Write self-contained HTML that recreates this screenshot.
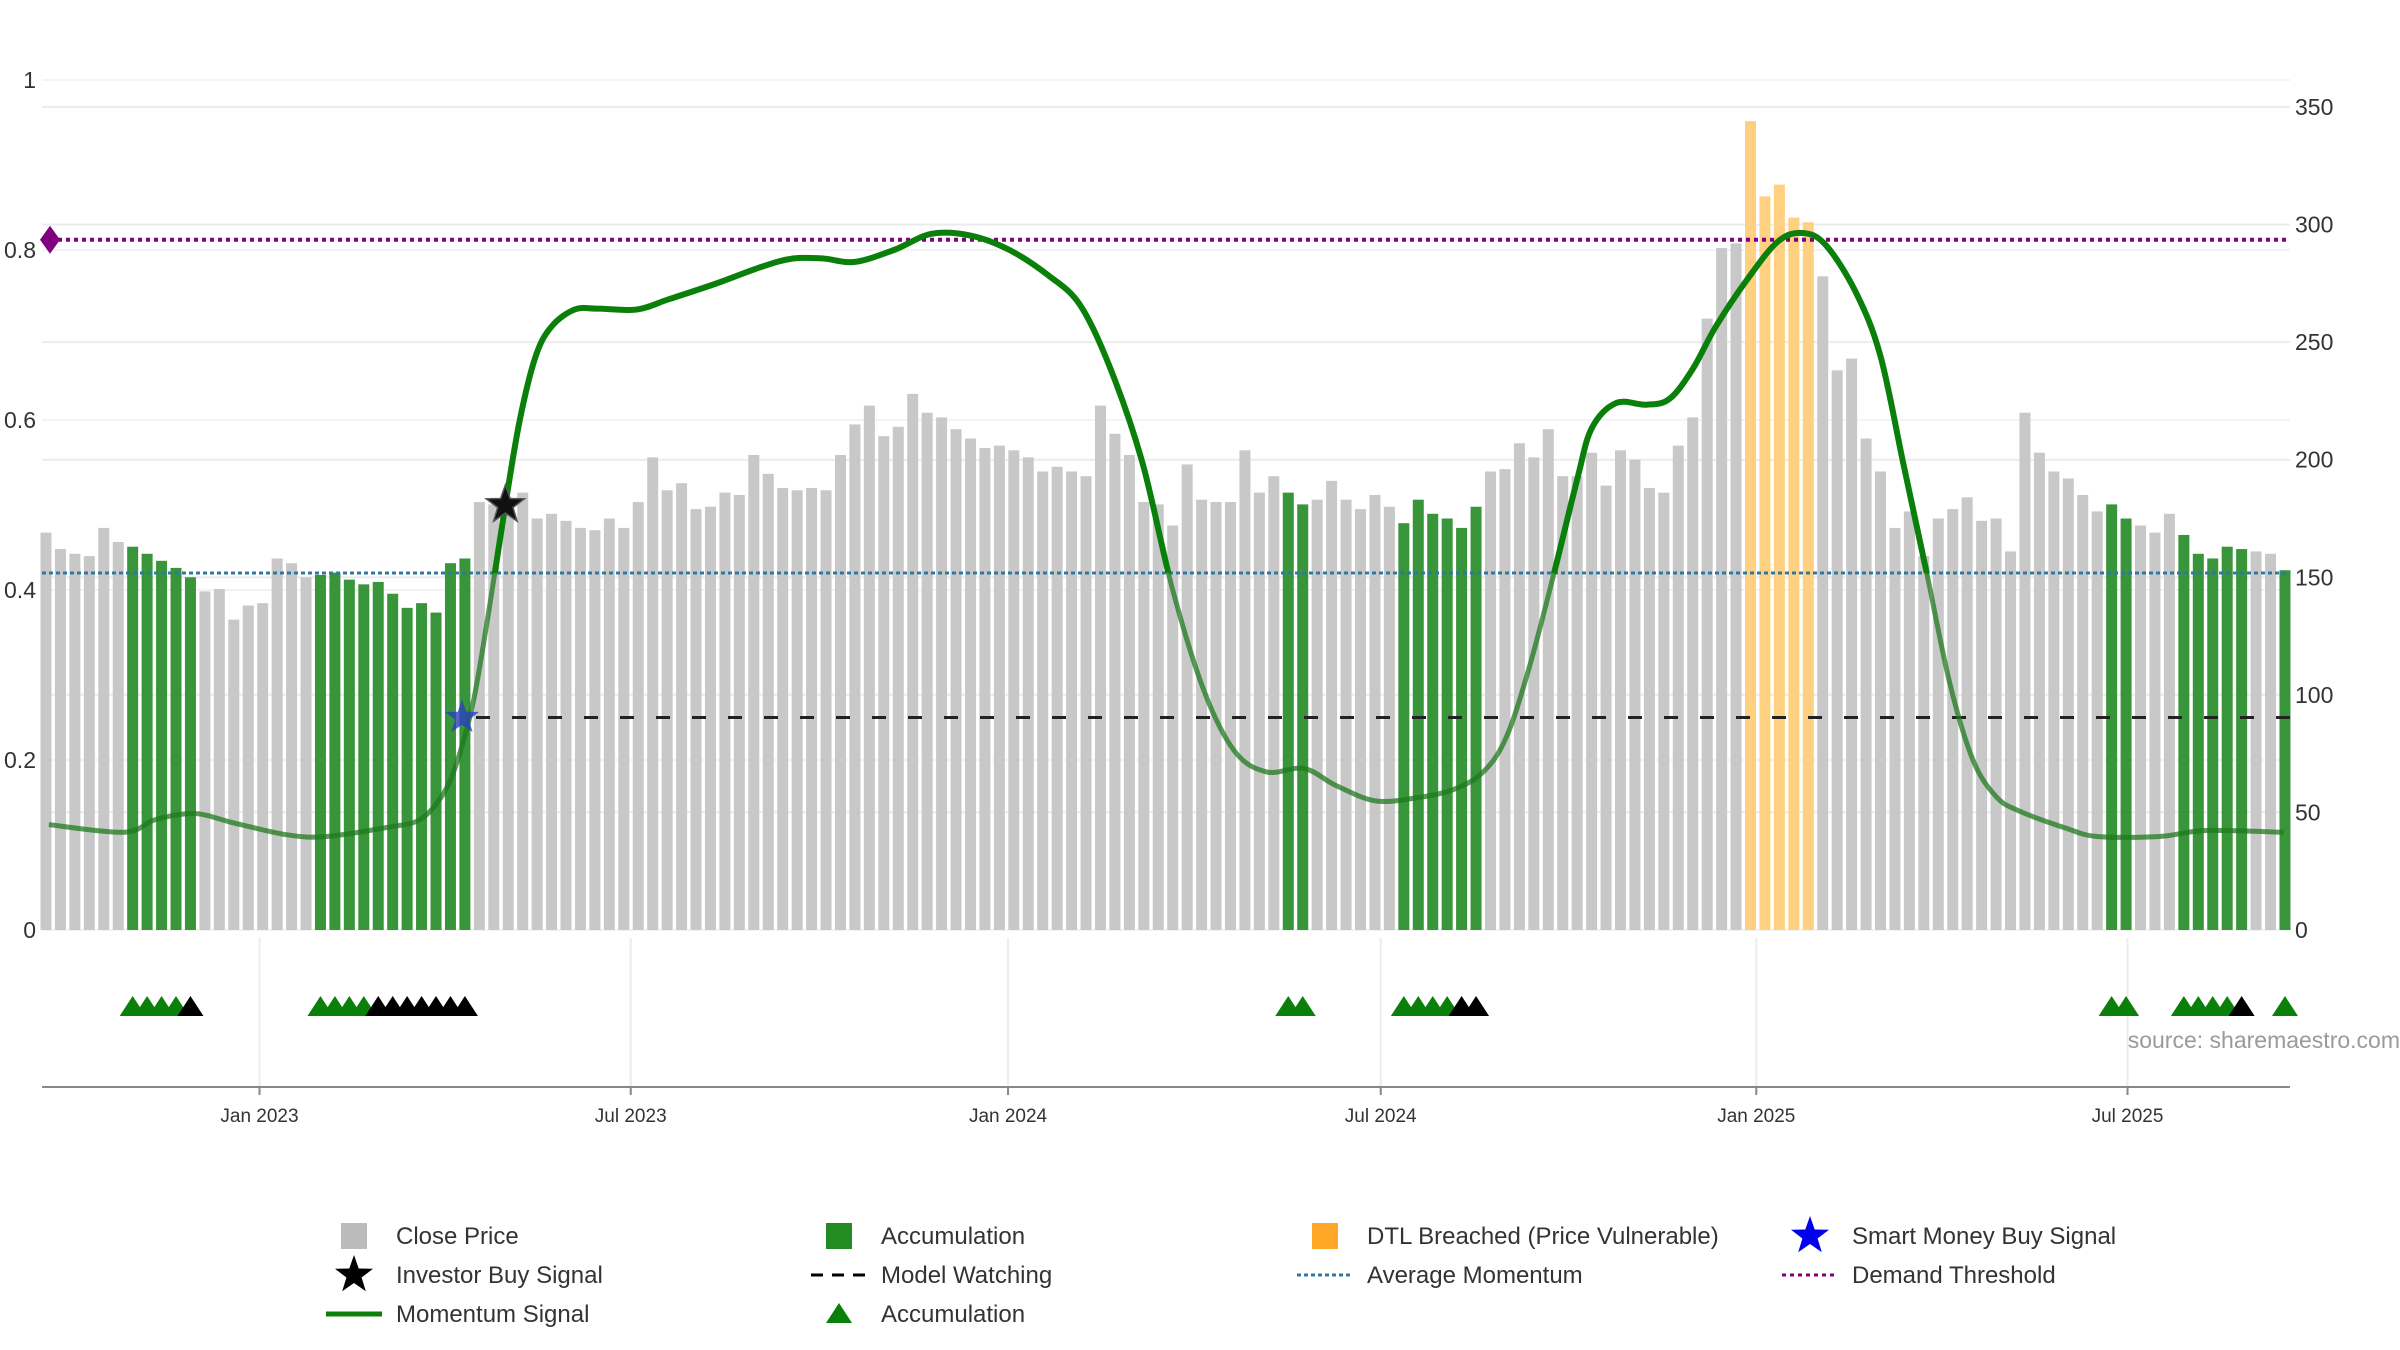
<!DOCTYPE html>
<html><head><meta charset="utf-8"><style>
html,body{margin:0;padding:0;background:#fff;}
svg{display:block;font-family:"Liberation Sans","DejaVu Sans",sans-serif;}
</style></head><body>
<svg id="chart" width="2400" height="1350" viewBox="0 0 2400 1350" xmlns="http://www.w3.org/2000/svg">
<defs><clipPath id="aboveAvg"><rect x="0" y="0" width="2400" height="573"/></clipPath></defs>
<g id="grid"></g>
<g id="bars"></g>
<g id="refs"></g>
<g id="lines"></g>
<g id="markers"></g>
<g id="axes"></g>
<text x="2400" y="1048" text-anchor="end" font-size="23" fill="#9a9a9a">source: sharemaestro.com</text>
<g id="legend"></g>
</svg>
<script>
const prices = [169,162,160,159,171,165,163,160,157,154,150,144,145,132,138,139,158,156,150,151,152,149,147,148,143,137,139,135,156,158,182,181,181,186,175,177,174,171,170,175,171,182,201,187,190,179,180,186,185,202,194,188,187,188,187,202,215,223,210,214,228,220,218,213,209,205,206,204,201,195,197,195,193,223,211,202,182,181,172,198,183,
182,182,204,186,193,186,181,183,191,183,179,185,180,173,183,177,175,171,180,195,196,207,201,213,193,193,203,189,204,200,188,186,206,218,260,290,292,344,312,317,303,301,278,238,243,209,195,171,178,159,175,179,184,174,175,161,220,203,195,192,185,178,181,175,172,169,177,168,160,158,163,162,161,160,153];
const accumIdx = [6,7,8,9,10,19,20,21,22,23,24,25,26,27,28,29,86,87,94,95,96,97,98,99,143,144,148,149,150,151,152,155];
const breachedIdx = [118,119,120,121,122];
const momIdx = [0.2,5.4,7.6,10.3,13.0,16.7,19.4,23.7,25.9,27.5,28.5,29.6,30.7,31.8,32.8,33.9,35.0,36.6,38.2,40.9,43.1,46.3,49.5,51.7,53.8,56.0,58.7,61.3,64.0,66.7,69.4,71.6,73.7,75.9,78.0,80.2,82.3,84.5,87.1,89.3,92.0,94.7,97.4,99.5,101.1,102.7,104.4,106.0,107.0,108.7,110.8,112.4,114.0,115.6,117.8,119.9,121.6,123.2,125.3,127.0,128.6,130.2,131.8,133.4,135.0,136.6,139.8,142.0,146.3,149.5,154.9];
const momVal = [0.124,0.115,0.13,0.137,0.126,0.112,0.11,0.121,0.13,0.16,0.2,0.27,0.38,0.5,0.6,0.675,0.71,0.73,0.731,0.73,0.742,0.76,0.78,0.79,0.79,0.786,0.80,0.819,0.817,0.80,0.77,0.735,0.66,0.55,0.40,0.28,0.21,0.186,0.19,0.17,0.152,0.155,0.165,0.186,0.227,0.31,0.42,0.53,0.59,0.62,0.618,0.625,0.66,0.71,0.766,0.81,0.82,0.806,0.75,0.675,0.547,0.42,0.29,0.2,0.157,0.14,0.12,0.11,0.11,0.117,0.115];
const accTriIdx = [6,7,8,9,19,20,21,22,86,87,94,95,96,97,143,144,148,149,150,151,155];
const watchTriIdx = [10,23,24,25,26,27,28,29,98,99,152];
const investorStar = [31.8, 0.5];
const smartStar = [28.8, 0.25];
const avgMomentum = 0.42;
const demandThreshold = 0.812;
const modelWatching = 0.25;
const monthIdx = [14.78,40.48,66.6,92.4,118.4,144.1];
const monthLabels = ["Jan 2023","Jul 2023","Jan 2024","Jul 2024","Jan 2025","Jul 2025"];
const rightTicks = [0,50,100,150,200,250,300,350];
const leftTicks = [0,0.2,0.4,0.6,0.8,1];
const leftTickLabels = ["0","0.2","0.4","0.6","0.8","1"];

const NS="http://www.w3.org/2000/svg";
const X0=46, DX=14.445, PL=42, PR=2290;
const xs=i=>X0+i*DX;
const ly=v=>930-850*v;
const ry=v=>930-v*823/350;
function mk(parent,tag,attrs){const e=document.createElementNS(NS,tag);for(const k in attrs)e.setAttribute(k,attrs[k]);document.getElementById(parent).appendChild(e);return e;}

// grid
rightTicks.forEach(t=>{const g=mk('grid','line',{x1:PL,x2:PR,y1:ry(t),y2:ry(t),stroke:'#ececec','stroke-width':2});

});
leftTicks.forEach(t=>{const g=mk('grid','line',{x1:PL,x2:PR,y1:ly(t),y2:ly(t),stroke:'#f3f3f3','stroke-width':2});

});
monthIdx.forEach(m=>{const g=mk('grid','line',{x1:xs(m),x2:xs(m),y1:938,y2:1087,stroke:'#ececec','stroke-width':2});

});

// bars
prices.forEach((p,i)=>{let c='#c8c8c8';
if(accumIdx.includes(i))c='#2e8f2e'; if(breachedIdx.includes(i))c='#ffd080';
const b=mk('bars','rect',{x:xs(i)-5.5,y:ry(p),width:11,height:ry(0)-ry(p),fill:c,opacity:accumIdx.includes(i)?0.95:1});

});

// reference lines
let r=mk('refs','line',{x1:PL,x2:PR,y1:ly(avgMomentum),y2:ly(avgMomentum),stroke:'#2f78a0','stroke-width':3,'stroke-dasharray':'4 3'});


r=mk('refs','line',{x1:PL,x2:PR,y1:ly(demandThreshold),y2:ly(demandThreshold),stroke:'#800080','stroke-width':4,'stroke-dasharray':'4 4'});


r=mk('refs','path',{d:`M${PL+8},${ly(demandThreshold)-14} l10,14 l-10,14 l-10,-14z`,fill:'#800080'});


r=mk('refs','line',{x1:xs(smartStar[0])+14,x2:PR,y1:ly(modelWatching),y2:ly(modelWatching),stroke:'#222','stroke-width':3,'stroke-dasharray':'14 22'});



// momentum line
const pts=momIdx.map((m,i)=>[xs(m),ly(momVal[i])]);
let d=`M${pts[0][0]},${pts[0][1]}`;
for(let i=0;i<pts.length-1;i++){const p0=pts[Math.max(0,i-1)],p1=pts[i],p2=pts[i+1],p3=pts[Math.min(pts.length-1,i+2)];
d+=` C${p1[0]+(p2[0]-p0[0])/6},${p1[1]+(p2[1]-p0[1])/6} ${p2[0]-(p3[0]-p1[0])/6},${p2[1]-(p3[1]-p1[1])/6} ${p2[0]},${p2[1]}`;}
let l=mk('lines','path',{d:d,fill:'none',stroke:'#1f7a1f','stroke-width':5,opacity:0.75});


l=mk('lines','path',{d:d,fill:'none',stroke:'#0a800a','stroke-width':6,'clip-path':'url(#aboveAvg)'});



function star(cx,cy,R){let s='';for(let k=0;k<10;k++){const a=-Math.PI/2+k*Math.PI/5,rr=k%2?R*0.4:R;s+=(k?'L':'M')+(cx+rr*Math.cos(a)).toFixed(1)+','+(cy+rr*Math.sin(a)).toFixed(1);}return s+'Z';}
let s=mk('markers','path',{d:star(xs(investorStar[0]),ly(investorStar[1]),20),fill:'#111',stroke:'#555','stroke-width':1.5});


s=mk('markers','path',{d:star(xs(smartStar[0]),ly(smartStar[1]),18),fill:'#2b3fbf',opacity:0.8});



function tri(cx,cy){return `M${cx-13},${cy+9} L${cx},${cy-11} L${cx+13},${cy+9}Z`;}
accTriIdx.forEach(i=>{const t=mk('markers','path',{d:tri(xs(i),1007),fill:'#0a800a'});

});
watchTriIdx.forEach(i=>{const t=mk('markers','path',{d:tri(xs(i),1007),fill:'#000'});

});

// axes
let a=mk('axes','line',{x1:PL,x2:PR,y1:1087,y2:1087,stroke:'#888','stroke-width':2});


monthIdx.forEach((m,i)=>{
const tk=mk('axes','line',{x1:xs(m),x2:xs(m),y1:1087,y2:1095,stroke:'#888','stroke-width':2});


const t=mk('axes','text',{x:xs(m),y:1122,'text-anchor':'middle','font-size':19,fill:'#333'});t.textContent=monthLabels[i];

});
rightTicks.forEach(v=>{const t=mk('axes','text',{x:2295,y:ry(v)+8,'font-size':23,fill:'#333'});t.textContent=v;

});
leftTicks.forEach((v,i)=>{const t=mk('axes','text',{x:36,y:ly(v)+8,'text-anchor':'end','font-size':23,fill:'#333'});t.textContent=leftTickLabels[i];

});

// legend
const cols=[354,839,1325,1810], rows=[1236,1275,1314];
function lt(c,r,txt,name){const t=mk('legend','text',{x:cols[c]+42,y:rows[r]+8,'font-size':24,fill:'#333'});t.textContent=txt;

}
let e;
e=mk('legend','rect',{x:cols[0]-13,y:rows[0]-13,width:26,height:26,fill:'#bbb'});
lt(0,0,'Close Price','legend-close-price');
e=mk('legend','path',{d:star(cols[0],rows[1],20),fill:'#000'});
lt(0,1,'Investor Buy Signal','legend-investor-buy');
e=mk('legend','line',{x1:cols[0]-28,x2:cols[0]+28,y1:rows[2],y2:rows[2],stroke:'#0a800a','stroke-width':5});
lt(0,2,'Momentum Signal','legend-momentum');
e=mk('legend','rect',{x:cols[1]-13,y:rows[0]-13,width:26,height:26,fill:'#228b22'});
lt(1,0,'Accumulation','legend-accumulation-bar');
e=mk('legend','line',{x1:cols[1]-28,x2:cols[1]+28,y1:rows[1],y2:rows[1],stroke:'#000','stroke-width':3,'stroke-dasharray':'12 9'});
lt(1,1,'Model Watching','legend-model-watching');
e=mk('legend','path',{d:tri(cols[1],rows[2]),fill:'#0a800a'});
lt(1,2,'Accumulation','legend-accumulation-marker');
e=mk('legend','rect',{x:cols[2]-13,y:rows[0]-13,width:26,height:26,fill:'#ffa726'});
lt(2,0,'DTL Breached (Price Vulnerable)','legend-dtl-breached');
e=mk('legend','line',{x1:cols[2]-28,x2:cols[2]+28,y1:rows[1],y2:rows[1],stroke:'#2f78a0','stroke-width':3,'stroke-dasharray':'4 3'});
lt(2,1,'Average Momentum','legend-average-momentum');
e=mk('legend','path',{d:star(cols[3],rows[0],20),fill:'#0000ee'});
lt(3,0,'Smart Money Buy Signal','legend-smart-money');
e=mk('legend','line',{x1:cols[3]-28,x2:cols[3]+28,y1:rows[1],y2:rows[1],stroke:'#800080','stroke-width':3,'stroke-dasharray':'4 4'});
lt(3,1,'Demand Threshold','legend-demand-threshold');
</script>
</body></html>
